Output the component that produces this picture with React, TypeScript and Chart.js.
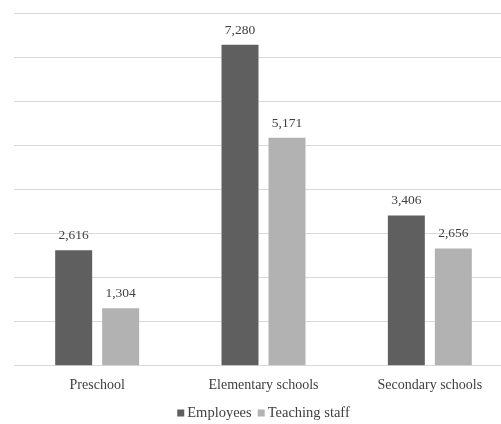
import React, { useEffect, useRef } from "react";
import { Chart, registerables } from "chart.js";

Chart.register(...registerables);

const categories = ["Preschool", "Elementary schools", "Secondary schools"];
const employees = [2616, 7280, 3406];
const teachingStaff = [1304, 5171, 2656];
const seriesNames = ["Employees", "Teaching staff"];

const FONT = "'Liberation Serif', 'Times New Roman', serif";

const valueLabels = {
  id: "valueLabels",
  afterDatasetsDraw(chart: any) {
    const ctx = chart.ctx;
    ctx.save();
    ctx.font = `13.5px ${FONT}`;
    ctx.fillStyle = "#404040";
    ctx.textAlign = "center";
    ctx.textBaseline = "bottom";
    chart.data.datasets.forEach((ds: any, i: number) => {
      const meta = chart.getDatasetMeta(i);
      meta.data.forEach((el: any, j: number) => {
        const v = ds.data[j];
        ctx.fillText(v.toLocaleString("en-US"), el.x, el.y - 8);
      });
    });
    ctx.restore();
  },
};

const bottomLegend = {
  id: "bottomLegend",
  afterDraw(chart: any) {
    const ctx = chart.ctx;
    const { left, right } = chart.chartArea;
    const box = 7;
    const gapText = 3;
    const gapItem = 6;
    ctx.save();
    ctx.font = `14.5px ${FONT}`;
    const items = chart.data.datasets.map((ds: any) => ({
      text: ds.label,
      color: ds.backgroundColor,
      w: box + gapText + ctx.measureText(ds.label).width,
    }));
    const total =
      items.reduce((s: number, it: any) => s + it.w, 0) + gapItem * (items.length - 1);
    let x = (left + right) / 2 - total / 2;
    const y = chart.height - 10.5;
    ctx.textBaseline = "middle";
    ctx.textAlign = "left";
    items.forEach((it: any) => {
      ctx.fillStyle = it.color;
      ctx.fillRect(x, y - box / 2 - 0.5, box, box);
      ctx.fillStyle = "#404040";
      ctx.fillText(it.text, x + box + gapText, y);
      x += it.w + gapItem;
    });
    ctx.restore();
  },
};

export default function App() {
  const ref = useRef<HTMLCanvasElement | null>(null);
  useEffect(() => {
    if (!ref.current) return;
    const chart = new Chart(ref.current, {
      type: "bar",
      data: {
        labels: categories,
        datasets: [
          {
            label: seriesNames[0],
            data: employees,
            backgroundColor: "#5f5f5f",
            barPercentage: 0.787,
            categoryPercentage: 0.565,
          },
          {
            label: seriesNames[1],
            data: teachingStaff,
            backgroundColor: "#b2b2b2",
            barPercentage: 0.787,
            categoryPercentage: 0.565,
          },
        ],
      },
      options: {
        animation: false,
        responsive: false,
        maintainAspectRatio: false,
        layout: { padding: { left: 14, right: 2, top: 13, bottom: 27.5 } },
        plugins: {
          legend: { display: false },
          tooltip: { enabled: false },
        },
        scales: {
          x: {
            grid: { display: false },
            border: { display: false },
            ticks: {
              color: "#404040",
              padding: 3,
              font: { family: FONT, size: 14 },
            },
          },
          y: {
            min: 0,
            max: 8000,
            ticks: { display: false, stepSize: 1000 },
            border: { display: false },
            grid: { color: "#d9d9d9", lineWidth: 1, drawTicks: false },
          },
        },
      },
      plugins: [valueLabels, bottomLegend],
    });
    return () => chart.destroy();
  }, []);
  return (
    <div
      style={{
        position: "absolute",
        left: 0,
        top: 0,
        width: 501,
        height: 424,
        overflow: "hidden",
        background: "#fff",
      }}
    >
      <canvas ref={ref} width={515} height={424} style={{ display: "block" }} />
    </div>
  );
}
